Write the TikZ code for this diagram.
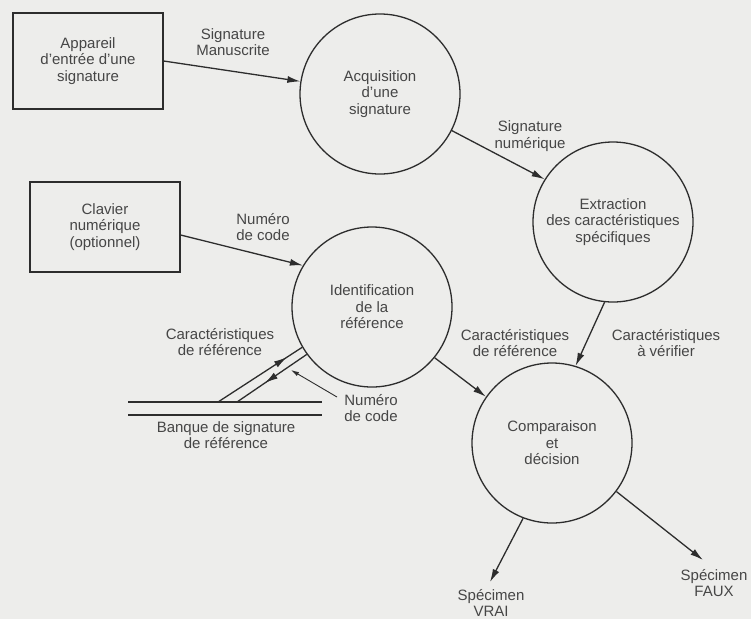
\documentclass[tikz,border=0pt]{standalone}
\usepackage{fontspec}
\setmainfont{Liberation Sans}
\usetikzlibrary{arrows.meta,decorations.markings}
\definecolor{bg}{RGB}{237,237,235}
\definecolor{ink}{RGB}{45,45,45}
\definecolor{txt}{RGB}{70,70,70}
\begin{document}
\begin{tikzpicture}[x=1pt,y=-1pt,
  every node/.style={font=\fontsize{15}{16.5}\selectfont, text=txt, align=center},
  proc/.style={draw=ink, line width=1.3pt, circle, minimum size=160pt, inner sep=0pt},
  extbox/.style={draw=ink, line width=1.3pt, rectangle, inner sep=0pt},
  flow/.style={draw=ink, line width=1.3pt, -{Latex[length=13pt,width=7pt]}},
  plain/.style={draw=ink, line width=1.3pt},
  thinarrow/.style={draw=ink, line width=0.9pt, -{Latex[length=8pt,width=4.5pt]}},
  midarrow/.style={postaction=decorate, decoration={markings,
     mark=at position #1 with {\arrow{Latex[length=13pt,width=7pt]}}}}
]
\fill[bg] (0,0) rectangle (751,619);
\useasboundingbox (0,0) rectangle (751,619);

% external entities
\node[extbox, minimum width=150pt, minimum height=96pt] (box1) at (88,61) {Appareil\\d'entrée d'une\\signature};
\node[extbox, minimum width=150pt, minimum height=90pt] (box2) at (105,227) {Clavier\\numérique\\(optionnel)};

% processes
\node[proc] (acq) at (380,94) {Acquisition\\d'une\\signature};
\node[proc] (extr) at (613,222) {Extraction\\des caractéristiques\\spécifiques};
\node[proc] (ident) at (372,307) {Identification\\de la\\référence};
\node[proc] (comp) at (552,443) {Comparaison\\et\\décision};

% data store
\coordinate (st1a) at (128,402);
\coordinate (st1b) at (322,402);
\coordinate (st2a) at (128,415);
\coordinate (st2b) at (322,415);
\draw[plain] (st1a) -- (st1b);
\draw[plain] (st2a) -- (st2b);
\node (store) at (226,435) {Banque de signature\\de référence};
\coordinate (sA) at (218,402);
\coordinate (sB) at (237,402);

% free ends
\coordinate (vraiTip) at (490,582);
\coordinate (fauxTip) at (703,560);
\coordinate (numStart) at (337,397);
\coordinate (numTip) at (291,370);

% flows
\draw[flow] (box1.east) -- (acq.171);
\draw[flow] (acq.-27) -- (extr.148);
\draw[flow] ([yshift=-8pt]box2.east) -- (ident.149);
\draw[flow] (ident.-39) -- (comp.145);
\draw[flow] (extr.-96) -- (comp.73);
\draw[flow] (comp.-111) -- (vraiTip);
\draw[flow] (comp.-37.6) -- (fauxTip);
\draw[plain, midarrow=0.82] (sA) -- (ident.-150);
\draw[plain, midarrow=0.6] (ident.-144) -- (sB);
\draw[thinarrow] (numStart) -- (numTip);

% labels
\node (l1) at (233,42) {Signature\\Manuscrite};
\node (l2) at (530,136) {Signature\\numérique};
\node (l3) at (263,227) {Numéro\\de code};
\node (l4) at (515,343) {Caractéristiques\\de référence};
\node (l5) at (666,343) {Caractéristiques\\à vérifier};
\node (l6) at (220,342) {Caractéristiques\\de référence};
\node (l7) at (371,408) {Numéro\\de code};
\node (l8) at (491,603) {Spécimen\\VRAI};
\node (l9) at (714,583) {Spécimen\\FAUX};
\end{tikzpicture}
\end{document}
